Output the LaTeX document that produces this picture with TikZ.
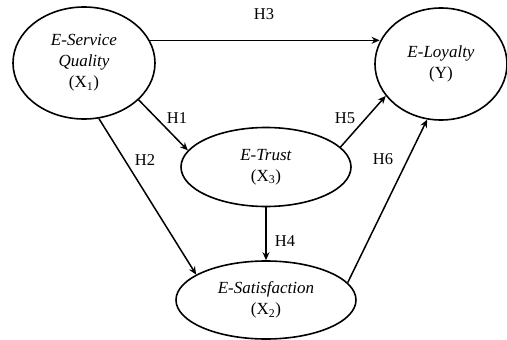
\documentclass[tikz,border=0pt]{standalone}
\usepackage{fontspec}
\setmainfont{Liberation Serif}
\usetikzlibrary{shapes.geometric,arrows.meta}
\tikzset{
  latent/.style={draw, ellipse, line width=1.6pt, inner sep=0pt, align=center,
    font=\fontsize{17}{21}\selectfont},
  path/.style={line width=1.5pt, -{Stealth[length=8pt,width=7pt]}},
  hyp/.style={font=\fontsize{16.5}{20}\selectfont, inner sep=0pt}
}
\begin{document}
\begin{tikzpicture}[x=1pt,y=-1pt]
\useasboundingbox (0,0) rectangle (507,340);
\node[latent, minimum width=142pt, minimum height=112pt] (sq) at (84,63)
  {\textit{E-Service}\\\textit{Quality}\\(X\textsubscript{1})};
\node[latent, minimum width=132pt, minimum height=112pt] (ly) at (441,64)
  {\textit{E-Loyalty}\\(Y)};
\node[latent, minimum width=170pt, minimum height=79pt] (tr) at (266,167)
  {\textit{E-Trust}\\(X\textsubscript{3})};
\node[latent, minimum width=180pt, minimum height=78pt] (sa) at (266,300)
  {\textit{E-Satisfaction}\\(X\textsubscript{2})};
\draw[path] (sq.19) -- (sq.19 -| ly.160);
\draw[path] (sq.-34.6) -- (tr.168);
\draw[path] (sq.-75.5) -- (sa.160.9);
\draw[path] (tr.south) -- (sa.north);
\draw[path] (tr.15.4) -- (ly.210.5);
\draw[path] (sa.12.7) -- (ly.256.4);
\node[hyp] (h3) at (264,14) {H3};
\node[hyp] (h1) at (177,118) {H1};
\node[hyp] (h2) at (145,160) {H2};
\node[hyp] (h4) at (285,241) {H4};
\node[hyp] (h5) at (345,118) {H5};
\node[hyp] (h6) at (383,159) {H6};
\end{tikzpicture}
\end{document}
